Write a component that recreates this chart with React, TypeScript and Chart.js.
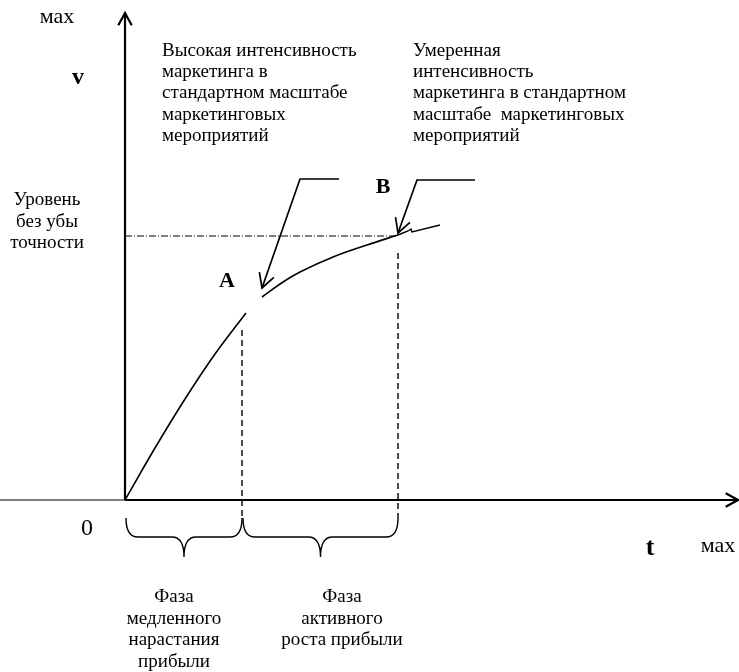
import React, { useEffect, useRef } from "react";
import { Chart, registerables } from "chart.js";

Chart.register(...registerables);

// ---- data (t = time, v = volume) ----
const slowT = [0, 30, 60, 90, 121];
const slowV = [0, 52, 101, 146, 187];
const activeT = [137, 158, 175, 208, 242, 273];
const activeV = [203, 218, 228, 243, 255, 265];
const breakT = [273, 283, 286, 287, 315];
const breakV = [265, 269, 271, 268, 275];
const levelV = 264; // break-even level
const phaseBounds = [0, 117, 273];
const tMax = 613;
const vMax = 487;

const textTopLeft = ["Высокая интенсивность", "маркетинга в", "стандартном масштабе", "маркетинговых", "мероприятий"];
const textTopRight = ["Умеренная", "интенсивность", "маркетинга в стандартном", "масштабе  маркетинговых", "мероприятий"];
const textLevel = ["Уровень", "без убы", "точности"];
const textPhaseSlow = ["Фаза", "медленного", "нарастания", "прибыли"];
const textPhaseActive = ["Фаза", "активного", "роста прибыли"];

const pts = (xs: number[], ys: number[]) => xs.map((x, i) => ({ x, y: ys[i] }));

const FONT = '"Liberation Serif", "Times New Roman", serif';

export default function App() {
  const ref = useRef<HTMLCanvasElement | null>(null);

  useEffect(() => {
    document.body.style.margin = "0";
    const canvas = ref.current;
    if (!canvas) return;

    const line = (data: any[], extra: any = {}) => ({
      data,
      showLine: true,
      pointRadius: 0,
      borderColor: "#000",
      backgroundColor: "#000",
      borderWidth: 1.6,
      tension: 0,
      fill: false,
      ...extra,
    });

    const datasets: any[] = [
      // axes
      line(pts([-125, 0], [0, 0]), { borderWidth: 1 }),
      line(pts([0, tMax], [0, 0]), { borderWidth: 2.2, arrowHead: 14 }),
      line(pts([0, 0], [0, vMax]), { borderWidth: 2.2, arrowHead: 14 }),
      // break-even level
      line(pts([0, activeT[activeT.length - 1]], [levelV, levelV]), { borderWidth: 1, borderDash: [7, 2, 1, 2] }),
      // phase boundaries
      line(pts([phaseBounds[1], phaseBounds[1]], [170, -18]), { borderWidth: 1.4, borderDash: [6, 4] }),
      line(pts([phaseBounds[2], phaseBounds[2]], [247, -18]), { borderWidth: 1.4, borderDash: [6, 4] }),
      // curves
      line(pts(slowT, slowV), { tension: 0.4 }),
      line(pts(activeT, activeV), { tension: 0.4 }),
      line(pts(breakT, breakV), { borderWidth: 1.4 }),
      // callout arrows A, B
      line(pts([214, 175, 137], [321, 321, 212]), { borderWidth: 1.7, arrowHead: 16 }),
      line(pts([350, 292, 273], [320, 320, 267]), { borderWidth: 1.7, arrowHead: 16 }),
    ];

    const texts: any[] = [
      { lines: ["мах"], x: -68, y: 477, align: "center", font: `22px ${FONT}` },
      { lines: ["v"], x: -47, y: 416, align: "center", font: `bold 24px ${FONT}` },
      { lines: textTopLeft, x: 37, y: 444, align: "left", font: `19px ${FONT}`, lh: 21.2 },
      { lines: textTopRight, x: 288, y: 444, align: "left", font: `19px ${FONT}`, lh: 21.2 },
      { lines: textLevel, x: -78, y: 295, align: "center", font: `19px ${FONT}`, lh: 21.5 },
      { lines: ["A"], x: 102, y: 213, align: "center", font: `bold 22px ${FONT}` },
      { lines: ["B"], x: 258, y: 307, align: "center", font: `bold 22px ${FONT}` },
      { lines: ["0"], x: -38, y: -35, align: "center", font: `24px ${FONT}` },
      { lines: ["t"], x: 525, y: -55, align: "center", font: `bold 26px ${FONT}` },
      { lines: ["мах"], x: 593, y: -52, align: "center", font: `22px ${FONT}` },
      { lines: textPhaseSlow, x: 49, y: -102, align: "center", font: `19px ${FONT}`, lh: 21.7 },
      { lines: textPhaseActive, x: 217, y: -102, align: "center", font: `19px ${FONT}`, lh: 21.7 },
    ];

    const decor = {
      id: "decor",
      afterDatasetsDraw(chart: any) {
        const { ctx, scales } = chart;
        const xs = scales.x, ys = scales.y;
        const px = (v: number) => xs.getPixelForValue(v);
        const py = (v: number) => ys.getPixelForValue(v);
        ctx.save();
        ctx.strokeStyle = "#000";
        ctx.fillStyle = "#000";
        ctx.setLineDash([]);
        // arrowheads
        chart.data.datasets.forEach((ds: any) => {
          if (!ds.arrowHead) return;
          const d = ds.data;
          const a = d[d.length - 2], b = d[d.length - 1];
          const x1 = px(a.x), y1 = py(a.y), x2 = px(b.x), y2 = py(b.y);
          const ang = Math.atan2(y2 - y1, x2 - x1);
          const L = ds.arrowHead, w = 0.5;
          ctx.lineWidth = ds.borderWidth;
          ctx.beginPath();
          ctx.moveTo(x2 - L * Math.cos(ang - w), y2 - L * Math.sin(ang - w));
          ctx.lineTo(x2, y2);
          ctx.lineTo(x2 - L * Math.cos(ang + w), y2 - L * Math.sin(ang + w));
          ctx.stroke();
        });
        // braces under the phases
        ctx.lineWidth = 1.4;
        const yT = py(-18), yM = py(-37), yB = py(-57);
        for (let i = 0; i < phaseBounds.length - 1; i++) {
          const x0 = px(phaseBounds[i]) + 1, x1 = px(phaseBounds[i + 1]);
          const xc = (x0 + x1) / 2, r = 12;
          ctx.beginPath();
          ctx.moveTo(x0, yT);
          ctx.quadraticCurveTo(x0, yM, x0 + r, yM);
          ctx.lineTo(xc - r, yM);
          ctx.quadraticCurveTo(xc, yM, xc, yB);
          ctx.quadraticCurveTo(xc, yM, xc + r, yM);
          ctx.lineTo(x1 - r, yM);
          ctx.quadraticCurveTo(x1, yM, x1, yT);
          ctx.stroke();
        }
        // texts
        ctx.textBaseline = "alphabetic";
        texts.forEach((t) => {
          ctx.font = t.font;
          ctx.textAlign = t.align;
          t.lines.forEach((s: string, i: number) => {
            ctx.fillText(s, px(t.x), py(t.y) + i * (t.lh || 0));
          });
        });
        ctx.restore();
      },
    };

    const chart = new Chart(canvas, {
      type: "scatter",
      data: { datasets },
      options: {
        animation: false,
        responsive: false,
        maintainAspectRatio: false,
        layout: { padding: 0 },
        plugins: { legend: { display: false }, tooltip: { enabled: false } },
        scales: {
          x: { type: "linear", display: false, min: -125, max: 614 },
          y: { type: "linear", display: false, min: -172, max: 500 },
        },
      },
      plugins: [decor],
    } as any);

    return () => chart.destroy();
  }, []);

  return (
    <div style={{ position: "absolute", left: 0, top: 0, width: 739, height: 672, background: "#fff" }}>
      <canvas ref={ref} width={739} height={672} style={{ width: 739, height: 672 }} />
    </div>
  );
}
